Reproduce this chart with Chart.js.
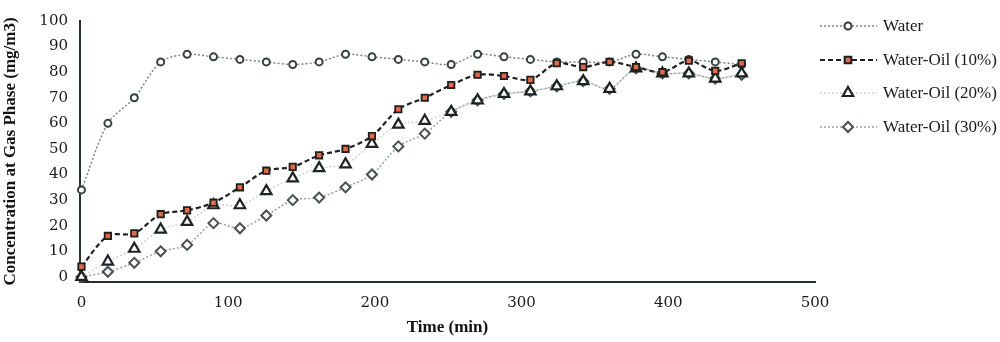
<!DOCTYPE html>
<html>
<head>
<meta charset="utf-8">
<script src="https://cdn.jsdelivr.net/npm/chart.js@4/dist/chart.umd.min.js"></script>
<style>
  html, body { margin: 0; padding: 0; background: #fff; }
  #wrap { width: 1000px; height: 342px; position: relative; }
</style>
</head>
<body>
<div id="wrap"><canvas id="chart"></canvas></div>
<script>
// time points (min)
const times = [0, 18, 36, 54, 72, 90, 108, 126, 144, 162, 180, 198, 216, 234, 252, 270, 288, 306, 324, 342, 360, 378, 396, 414, 432, 450];

// concentration at gas phase (mg/m3)
const water = [34, 60, 70, 84, 87, 86, 85, 84, 83, 84, 87, 86, 85, 84, 83, 87, 86, 85, 84, 84, 84, 87, 86, 85, 84, 83];
const oil10 = [4, 16, 17, 24.5, 26, 29, 35, 41.5, 43, 47.5, 50, 55, 65.5, 70, 75, 79, 78.5, 77, 83.5, 82, 84, 82, 80, 84.5, 80.5, 83.5];
const oil20 = [0, 6, 11, 18.5, 21.5, 28, 28, 33.5, 38.5, 42.5, 44, 52, 59.5, 61, 64.5, 69, 71.5, 72.5, 74.5, 76.5, 73.5, 81.5, 79.5, 79.5, 77.5, 79.5];
const oil30 = [0, 2, 5.5, 10, 12.5, 21, 19, 24, 30, 31, 35, 40, 51, 56, 64.5, 69, 71.5, 72.5, 74.5, 76.5, 73.5, 81.5, 79.5, 79.5, 77.5, 79];

const seriesNames = ['Water', 'Water-Oil (10%)', 'Water-Oil (20%)', 'Water-Oil (30%)'];
const xTicks = [0, 100, 200, 300, 400, 500];
const yTicks = [0, 10, 20, 30, 40, 50, 60, 70, 80, 90, 100];

const FONT = "'Liberation Serif', 'DejaVu Serif', serif";
const TICK_FONT = "'DejaVu Serif', serif";
const toXY = arr => arr.map((v, i) => ({ x: times[i], y: v }));

// legend with line sample + marker, like the original
const sideLegend = {
  id: 'sideLegend',
  afterDraw(chart) {
    const ctx = chart.ctx;
    const rows = [26, 60, 93, 127];
    chart.data.datasets.forEach((ds, i) => {
      const y = rows[i];
      ctx.save();
      ctx.strokeStyle = ds.borderColor;
      ctx.lineWidth = ds.borderWidth;
      ctx.setLineDash(ds.borderDash || []);
      ctx.beginPath();
      ctx.moveTo(820, y);
      ctx.lineTo(877, y);
      ctx.stroke();
      ctx.setLineDash([]);
      Chart.helpers.drawPoint(ctx, {
        pointStyle: ds.pointStyle,
        radius: ds.pointRadius,
        borderWidth: ds.pointBorderWidth,
        rotation: 0
      }, 848, y);
      ctx.fillStyle = ds.pointBackgroundColor;
      ctx.strokeStyle = ds.pointBorderColor;
      ctx.lineWidth = ds.pointBorderWidth;
      ctx.fill();
      ctx.stroke();
      ctx.fillStyle = '#1a1a1a';
      ctx.font = "17px " + FONT;
      ctx.textBaseline = 'middle';
      ctx.fillText(seriesNames[i], 883, y + 1);
      ctx.restore();
    });
  }
};

new Chart(document.getElementById('chart'), {
  type: 'line',
  data: {
    datasets: [
      {
        label: seriesNames[0],
        data: toXY(water),
        borderColor: '#7f8585',
        borderWidth: 1.5,
        borderDash: [2, 2],
        pointStyle: 'circle',
        pointRadius: 3.5,
        pointBorderWidth: 2,
        pointBackgroundColor: '#ffffff',
        pointBorderColor: '#3a3f3f',
        order: 2
      },
      {
        label: seriesNames[1],
        data: toXY(oil10),
        borderColor: '#1e2222',
        borderWidth: 2.2,
        borderDash: [5, 3],
        pointStyle: 'rect',
        pointRadius: 4.5,
        pointBorderWidth: 1.8,
        pointBackgroundColor: '#e0694a',
        pointBorderColor: '#1e1e1e',
        order: 0
      },
      {
        label: seriesNames[2],
        data: toXY(oil20),
        borderColor: '#cfd3d3',
        borderWidth: 1.5,
        borderDash: [2, 2],
        pointStyle: 'triangle',
        pointRadius: 6,
        pointBorderWidth: 2.2,
        pointBackgroundColor: '#ffffff',
        pointBorderColor: '#1e2222',
        order: 1
      },
      {
        label: seriesNames[3],
        data: toXY(oil30),
        borderColor: '#9aa0a0',
        borderWidth: 1.5,
        borderDash: [2, 2],
        pointStyle: 'rectRot',
        pointRadius: 5,
        pointBorderWidth: 2,
        pointBackgroundColor: '#ffffff',
        pointBorderColor: '#4a5050',
        order: 3
      }
    ]
  },
  options: {
    responsive: true,
    maintainAspectRatio: false,
    animation: false,
    datasets: { line: { tension: 0.3, clip: false } },
    layout: { padding: { left: 0, right: 185, top: 18, bottom: 0 } },
    plugins: {
      legend: { display: false },
      tooltip: { enabled: false }
    },
    scales: {
      x: {
        type: 'linear',
        min: -1,
        max: 500,
        afterBuildTicks: s => { s.ticks = xTicks.map(v => ({ value: v })); },
        afterFit: s => { s.height = 60; },
        grid: { display: false, drawTicks: false },
        border: { display: true, color: '#263030', width: 2 },
        ticks: { color: '#1a1a1a', padding: 12, font: { family: TICK_FONT, size: 15 } },
        title: {
          display: true,
          text: 'Time (min)',
          color: '#111',
          padding: { top: 2 },
          font: { family: FONT, size: 17, weight: 'bold' }
        }
      },
      y: {
        min: -2,
        max: 100,
        afterBuildTicks: s => { s.ticks = yTicks.map(v => ({ value: v })); },
        afterFit: s => { s.width = 80; },
        grid: { display: false, drawTicks: false },
        border: { display: true, color: '#263030', width: 2 },
        ticks: { color: '#1a1a1a', padding: 12, font: { family: TICK_FONT, size: 15 } },
        title: {
          display: true,
          text: 'Concentration at Gas Phase (mg/m3)',
          color: '#111',
          padding: { top: 0, bottom: 0 },
          font: { family: FONT, size: 17, weight: 'bold' }
        }
      }
    }
  },
  plugins: [sideLegend]
});
</script>
</body>
</html>
